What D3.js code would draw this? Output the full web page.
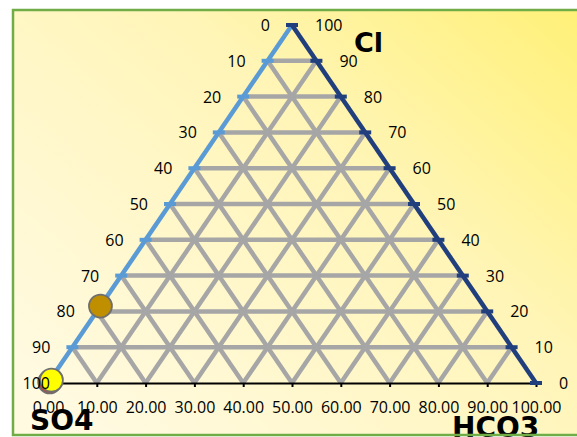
<!DOCTYPE html>
<html lang="en">
<head>
<meta charset="UTF-8">
<title>Ternary diagram</title>
<script src="https://d3js.org/d3.v7.min.js"></script>
<style>
  html, body { margin: 0; padding: 0; background: #fff; }
  svg { display: block; }
</style>
</head>
<body>
<div id="chart"></div>
<script>
    // levels used for grid, ticks and labels (percent)
    const levels = [0, 10, 20, 30, 40, 50, 60, 70, 80, 90, 100];
    const leftTickLabels = ["0", "10", "20", "30", "40", "50", "60", "70", "80", "90", "100"];   // top -> bottom
    const rightTickLabels = ["100", "90", "80", "70", "60", "50", "40", "30", "20", "10", "0"];  // top -> bottom
    const baseTickValues = [0, 10, 20, 30, 40, 50, 60, 70, 80, 90, 100];

    // samples (percent of SO4, Cl, HCO3)
    const sampleSO4 = [99.5, 98.9, 78.5];
    const sampleCl = [0.3, 0.8, 21.5];
    const sampleHCO3 = [0.2, 0.3, 0];
    const sampleFill = ["#e0312b", "#ffff00", "#bf8f00"];

    const width = 577;
    const height = 437;

    const x = d3.scaleLinear().domain([0, 100]).range([48, 536]);
    const y = d3.scaleLinear().domain([0, 100]).range([383, 25]);

    // ternary -> plot coords: horizontal = HCO3 + Cl/2, vertical = Cl
    const px = (h, c) => x(h + c / 2);
    const py = c => y(c);

    const svg = d3.select("#chart")
        .append("svg")
        .attr("width", width)
        .attr("height", height);

    const defs = svg.append("defs");
    const grad = defs.append("linearGradient")
        .attr("id", "bg")
        .attr("x1", "0").attr("y1", "0.8")
        .attr("x2", "1").attr("y2", "0");
    grad.append("stop").attr("offset", "0").attr("stop-color", "#fffae0");
    grad.append("stop").attr("offset", "0.55").attr("stop-color", "#fff5b8");
    grad.append("stop").attr("offset", "1").attr("stop-color", "#fff072");

    svg.append("rect")
        .attr("x", 13).attr("y", 10)
        .attr("width", 600).attr("height", 425)
        .attr("fill", "url(#bg)");

    const gridColor = "#a6a6a6";
    const grid = svg.append("g")
        .attr("stroke", gridColor)
        .attr("stroke-width", 4.5)
        .attr("fill", "none");

    const inner = levels.slice(1, -1);

    // horizontal lines (constant Cl)
    grid.selectAll(".h")
        .data(inner)
        .join("line")
        .attr("x1", c => px(0, c)).attr("y1", c => py(c))
        .attr("x2", c => px(100 - c, c)).attr("y2", c => py(c));

    // lines from the base up to the left side
    grid.selectAll(".l")
        .data(inner)
        .join("line")
        .attr("x1", k => x(k)).attr("y1", py(0))
        .attr("x2", k => px(0, k)).attr("y2", k => py(k));

    // lines from the base up to the right side
    grid.selectAll(".r")
        .data(inner)
        .join("line")
        .attr("x1", k => x(k)).attr("y1", py(0))
        .attr("x2", k => px(k, 100 - k)).attr("y2", k => py(100 - k));

    // bottom axis
    const xAxis = svg.append("g")
        .attr("transform", `translate(0, ${py(0)})`)
        .call(d3.axisBottom(x)
            .tickValues(baseTickValues)
            .tickFormat(d3.format(".2f"))
            .tickSizeOuter(0)
            .tickSizeInner(4)
            .tickPadding(15));
    xAxis.select(".domain").attr("stroke", "#000").attr("stroke-width", 2);
    xAxis.selectAll(".tick line").attr("stroke", "#000").attr("stroke-width", 2);
    xAxis.selectAll(".tick text")
        .attr("font-family", "Open Sans, sans-serif")
        .attr("font-size", 16)
        .attr("fill", "#000");

    // left side (light blue)
    const leftColor = "#5b9bd5";
    svg.append("line")
        .attr("x1", px(0, 100)).attr("y1", py(100))
        .attr("x2", px(0, 0)).attr("y2", py(0))
        .attr("stroke", leftColor).attr("stroke-width", 4.5);
    svg.append("g").selectAll("line")
        .data(levels)
        .join("line")
        .attr("x1", c => px(0, c) - 6).attr("x2", c => px(0, c) + 6)
        .attr("y1", c => py(c)).attr("y2", c => py(c))
        .attr("stroke", leftColor).attr("stroke-width", 4);

    // right side (dark blue)
    const rightColor = "#213f7d";
    svg.append("line")
        .attr("x1", px(0, 100)).attr("y1", py(100))
        .attr("x2", px(100, 0)).attr("y2", py(0))
        .attr("stroke", rightColor).attr("stroke-width", 4.5);
    svg.append("g").selectAll("line")
        .data(levels)
        .join("line")
        .attr("x1", c => px(100 - c, c) - 6).attr("x2", c => px(100 - c, c) + 6)
        .attr("y1", c => py(c)).attr("y2", c => py(c))
        .attr("stroke", rightColor).attr("stroke-width", 4);

    // samples
    const samples = sampleSO4.map((s, i) => {
        const tot = s + sampleCl[i] + sampleHCO3[i];
        return {
            cl: sampleCl[i] / tot * 100,
            hco3: sampleHCO3[i] / tot * 100,
            fill: sampleFill[i]
        };
    });
    svg.append("g").selectAll("circle")
        .data(samples)
        .join("circle")
        .attr("cx", d => px(d.hco3, d.cl))
        .attr("cy", d => py(d.cl))
        .attr("r", 11.5)
        .attr("fill", d => d.fill)
        .attr("stroke", "#6f6f6f")
        .attr("stroke-width", 1.8);

    // side tick labels (drawn over the markers)
    const labelFont = "Open Sans, sans-serif";
    svg.append("g").selectAll("text")
        .data(levels)
        .join("text")
        .attr("x", c => Math.max(px(0, c) - 22, 50))
        .attr("y", c => py(c) + 6)
        .attr("text-anchor", "end")
        .attr("font-family", labelFont)
        .attr("font-size", 16)
        .text((c, i) => leftTickLabels[levels.length - 1 - i]);

    svg.append("g").selectAll("text")
        .data(levels)
        .join("text")
        .attr("x", c => px(100 - c, c) + 23)
        .attr("y", c => py(c) + 6)
        .attr("font-family", labelFont)
        .attr("font-size", 16)
        .text((c, i) => rightTickLabels[levels.length - 1 - i]);

    // corner titles
    const titleFont = "DejaVu Sans, Verdana, sans-serif";
    svg.append("text").attr("x", 354).attr("y", 52)
        .attr("font-family", titleFont).attr("font-weight", "bold").attr("font-size", 27)
        .text("Cl");
    svg.append("text").attr("x", 30).attr("y", 430)
        .attr("font-family", titleFont).attr("font-weight", "bold").attr("font-size", 28)
        .text("SO4");
    svg.append("text").attr("x", 452).attr("y", 437)
        .attr("font-family", titleFont).attr("font-weight", "bold").attr("font-size", 28)
        .text("HCO3");

    // chart area border
    svg.append("rect")
        .attr("x", 13).attr("y", 10)
        .attr("width", 600).attr("height", 425)
        .attr("fill", "none")
        .attr("stroke", "#70ad47")
        .attr("stroke-width", 2.5);
</script>
</body>
</html>
